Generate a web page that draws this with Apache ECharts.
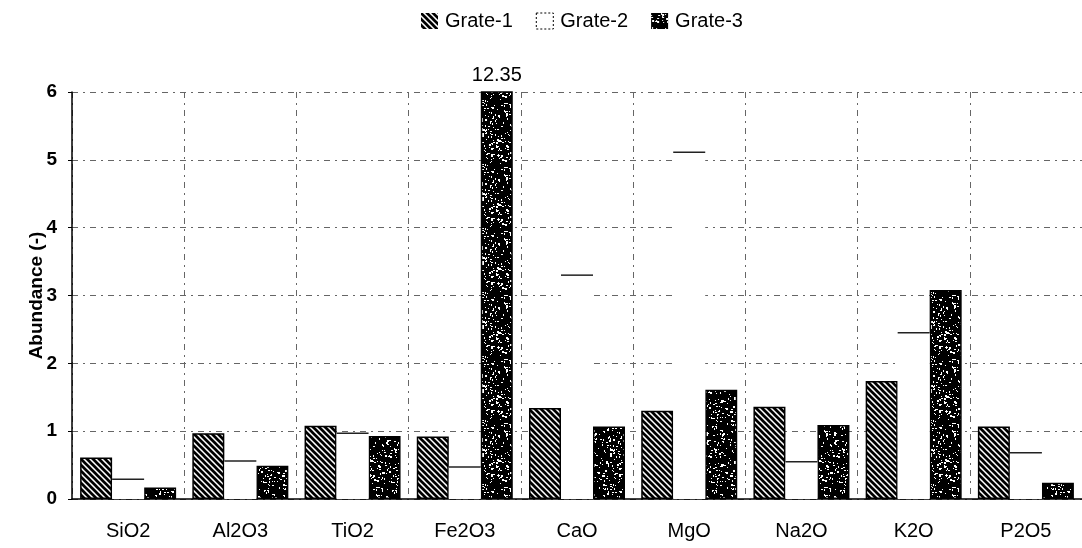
<!DOCTYPE html>
<html>
<head>
<meta charset="utf-8">
<script src="https://cdn.jsdelivr.net/npm/echarts@6/dist/echarts.min.js"></script>
<style>
  html, body { margin: 0; padding: 0; background: #fff; }
  #chart { width: 1082px; height: 548px; }
</style>
</head>
<body>
<div id="chart"></div>
<script>
// Oxide abundance per grate sample
const categories = ['SiO2', 'Al2O3', 'TiO2', 'Fe2O3', 'CaO', 'MgO', 'Na2O', 'K2O', 'P2O5'];
const seriesNames = ['Grate-1', 'Grate-2', 'Grate-3'];
const grate1 = [0.61, 0.97, 1.08, 0.92, 1.34, 1.30, 1.36, 1.74, 1.07];
const grate2 = [0.29, 0.56, 0.97, 0.47, 3.30, 5.11, 0.55, 2.45, 0.68];
const grate3 = [0.17, 0.49, 0.93, 12.35, 1.07, 1.61, 1.09, 3.08, 0.24];
const yTicks = [0, 1, 2, 3, 4, 5, 6];

const FONT = "'Liberation Sans', Arial, sans-serif";

// Diagonal hatch fill
function hatchPattern() {
  const s = 6;
  const c = document.createElement('canvas');
  c.width = s; c.height = s;
  const g = c.getContext('2d');
  g.fillStyle = '#fff';
  g.fillRect(0, 0, s, s);
  g.strokeStyle = '#000';
  g.lineWidth = 2.7;
  g.beginPath();
  g.moveTo(-1, -1); g.lineTo(s + 1, s + 1);
  g.moveTo(-1, s - 1); g.lineTo(1, s + 1);
  g.moveTo(s - 1, -1); g.lineTo(s + 1, 1);
  g.stroke();
  return c;
}

// Dark speckled fill (deterministic noise)
function specklePattern() {
  const s = 64;
  const c = document.createElement('canvas');
  c.width = s; c.height = s;
  const g = c.getContext('2d');
  g.fillStyle = '#000';
  g.fillRect(0, 0, s, s);
  let seed = 12345;
  const rnd = () => { seed = (seed * 1103515245 + 12345) & 0x7fffffff; return seed / 0x7fffffff; };
  g.fillStyle = '#fff';
  for (let i = 0; i < 330; i++) {
    const x = Math.floor(rnd() * s), y = Math.floor(rnd() * s);
    const w = rnd() < 0.35 ? 2 : 1, h = rnd() < 0.35 ? 2 : 1;
    g.fillRect(x, y, w, h);
  }
  return c;
}

const hatch = { image: hatchPattern(), repeat: 'repeat' };
const speckle = { image: specklePattern(), repeat: 'repeat' };

const chart = echarts.init(document.getElementById('chart'), null, { renderer: 'canvas' });

const option = {
  animation: false,
  backgroundColor: '#fff',
  textStyle: { fontFamily: FONT },
  legend: {
    top: 6,
    left: 416,
    itemWidth: 17,
    itemHeight: 16,
    itemGap: 23,
    textStyle: { fontFamily: FONT, fontSize: 20, color: '#000', padding: [0, 0, 0, 2] },
    data: [
      { name: 'Grate-1', icon: 'rect', itemStyle: { color: hatch, borderColor: '#000', borderWidth: 0 } },
      { name: 'Grate-2', icon: 'rect', itemStyle: { color: '#fff', borderColor: '#000', borderWidth: 1, borderType: [2, 2] } },
      { name: 'Grate-3', icon: 'rect', itemStyle: { color: speckle, borderColor: '#000', borderWidth: 0 } }
    ]
  },
  grid: { left: 72, top: 92, width: 1013, height: 407, containLabel: false },
  xAxis: {
    type: 'category',
    data: categories,
    boundaryGap: true,
    axisLine: { show: true, lineStyle: { color: '#000', width: 1.5 } },
    axisTick: { show: false },
    axisLabel: { fontFamily: FONT, fontSize: 20, color: '#000', margin: 22 },
    splitLine: { show: true, lineStyle: { color: '#666', width: 1, type: [6, 5, 2, 5] } }
  },
  yAxis: {
    type: 'value',
    min: yTicks[0],
    max: yTicks[yTicks.length - 1],
    interval: 1,
    name: 'Abundance (-)',
    nameLocation: 'middle',
    nameGap: 26,
    nameMoveOverlap: false,
    nameTextStyle: { fontFamily: FONT, fontSize: 19, fontWeight: 'bold', color: '#000' },
    axisLine: { show: true, lineStyle: { color: '#000', width: 1.5 } },
    axisTick: { show: true, length: 4, lineStyle: { color: '#000' } },
    axisLabel: { fontFamily: FONT, fontSize: 19, fontWeight: 'bold', color: '#000', margin: 15 },
    splitLine: { show: true, lineStyle: { color: '#666', width: 1, type: [6, 5, 2, 5] } }
  },
  series: [
    {
      name: seriesNames[0],
      type: 'bar',
      data: grate1,
      barWidth: 32,
      barGap: '100%',
      itemStyle: { color: hatch, borderColor: '#000', borderWidth: 1.5 }
    },
    {
      // Middle (open) bars: white column with a line across the top
      name: seriesNames[1],
      type: 'custom',
      data: grate2.map((v, i) => [i, v]),
      itemStyle: { color: '#fff' },
      renderItem: function (params, api) {
        const top = api.coord([api.value(0), api.value(1)]);
        const base = api.coord([api.value(0), 0]);
        const half = 16;
        return {
          type: 'group',
          children: [
            { type: 'rect', shape: { x: top[0] - half, y: top[1], width: half * 2, height: base[1] - top[1] }, style: { fill: '#fff' } },
            { type: 'line', shape: { x1: top[0] - half, y1: top[1], x2: top[0] + half, y2: top[1] }, style: { stroke: '#222', lineWidth: 1.5 } }
          ]
        };
      },
      z: 3
    },
    {
      name: seriesNames[2],
      type: 'bar',
      data: grate3,
      barWidth: 32,
      barGap: '100%',
      clip: true,
      itemStyle: { color: speckle, borderColor: '#000', borderWidth: 1.5 },
      label: {
        show: true,
        position: 'top',
        distance: 6,
        fontFamily: FONT,
        fontSize: 20,
        color: '#000',
        formatter: function (p) { return p.value > yTicks[yTicks.length - 1] ? p.value.toFixed(2) : ''; }
      }
    }
  ]
};

chart.setOption(option);
</script>
</body>
</html>
